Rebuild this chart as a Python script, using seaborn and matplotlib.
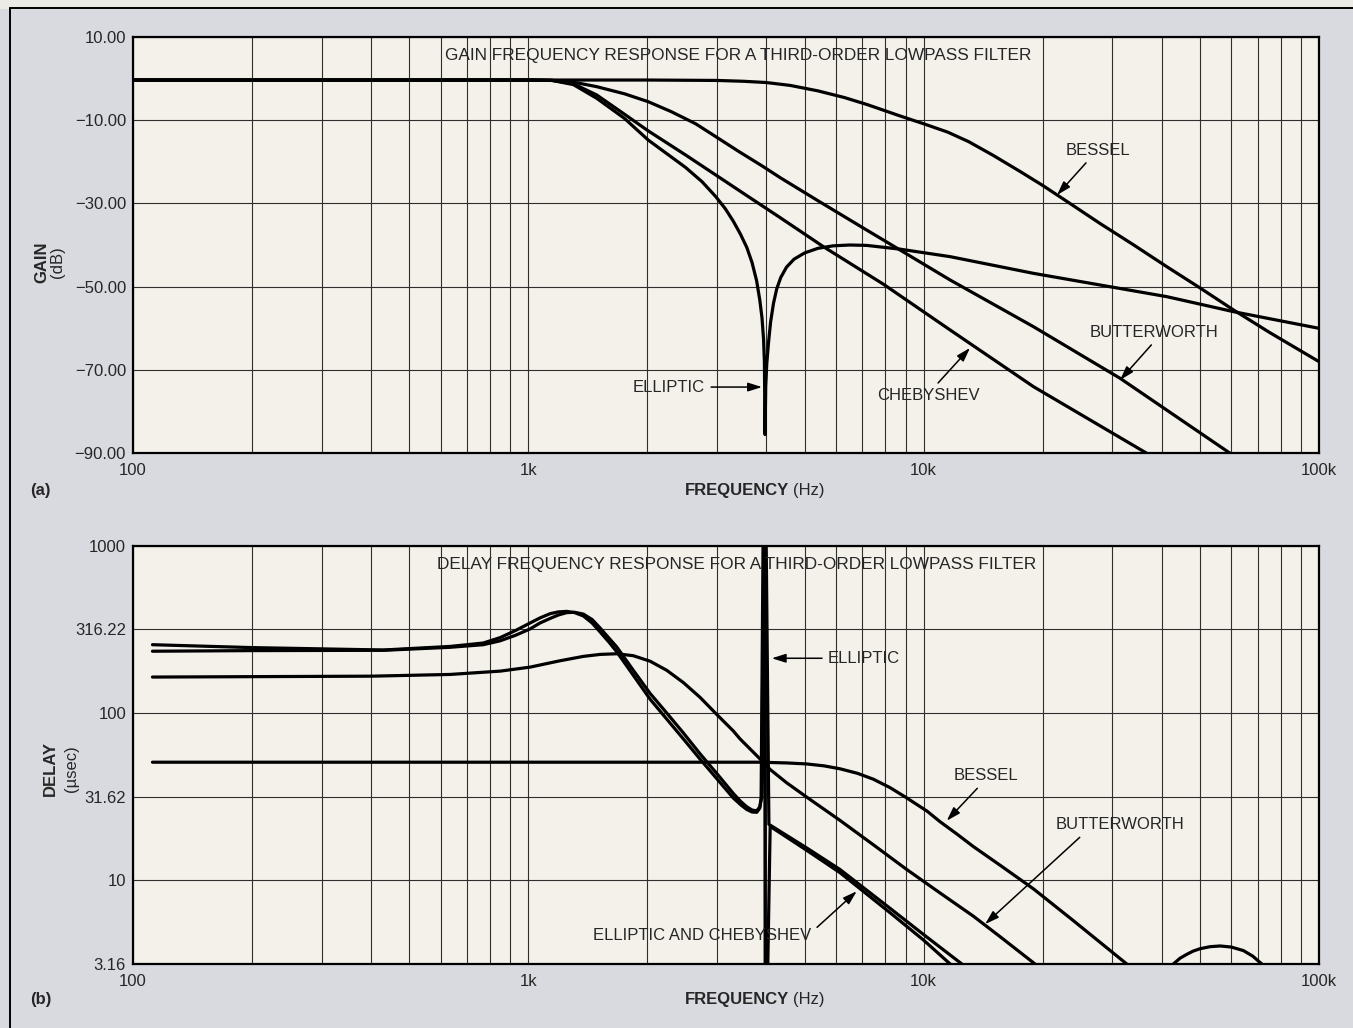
import numpy as np
import seaborn as sns
import matplotlib.pyplot as plt
from matplotlib.lines import Line2D
from matplotlib.ticker import LogLocator, NullLocator, NullFormatter

# --- (a) gain, dB ---
gain_bessel_f = [100, 2000, 3000, 3500, 4000, 4600, 5400, 6300, 7200, 8000, 8700, 10000, 11500, 13000, 15000,
                 17500, 20000, 23000, 27900, 34000, 41200, 50000, 60800, 75000, 100000]
gain_bessel_db = [-0.4, -0.4, -0.5, -0.7, -1.0, -1.7, -3.0, -4.6, -6.3, -7.8, -9.0, -10.9, -12.9, -15.2, -18.5,
                  -22.3, -25.7, -29.5, -34.8, -40.0, -45.2, -50.3, -55.6, -61.0, -68.0]

gain_butter_f = [100, 1000, 1150, 1300, 1490, 1750, 2010, 2300, 2650, 2980, 3400, 3900, 4330, 5365, 7000, 8716,
                 11667, 18950, 31400, 59600]
gain_butter_db = [-0.4, -0.4, -0.5, -0.9, -2.0, -3.7, -5.6, -8.0, -10.9, -14.0, -17.5, -21.0, -23.8, -29.2, -35.8,
                  -41.2, -48.4, -59.6, -72.0, -90.0]

gain_cheb_f = [100, 1000, 1150, 1300, 1490, 1750, 2010, 2500, 2980, 3630, 4330, 5576, 7907, 11667, 18954, 36680]
gain_cheb_db = [-0.4, -0.4, -0.5, -1.3, -4.0, -8.6, -12.6, -18.4, -23.2, -28.6, -33.4, -40.4, -49.4, -60.4, -74.0, -90.0]

gain_ell_f = [100, 1000, 1150, 1300, 1490, 1750, 2010, 2500, 2750, 2980, 3150, 3300, 3440, 3570, 3680, 3780, 3850,
              3900, 3935, 3955, 3970, 3985, 4010, 4050, 4100, 4170, 4250, 4350, 4500, 4700, 5000, 5400, 5900,
              6500, 7180, 8720, 11670, 18950, 27950, 41210, 60760, 100000]
gain_ell_db = [-0.4, -0.4, -0.5, -1.5, -4.8, -9.6, -14.8, -21.4, -24.8, -28.4, -31.3, -34.3, -37.4, -40.6, -44.2,
               -48.6, -53.2, -57.5, -62.5, -68.0, -85.5, -74.0, -68.5, -63.5, -58.5, -54.0, -50.5, -47.8, -45.3,
               -43.4, -41.9, -40.8, -40.2, -40.0, -40.1, -41.0, -42.8, -46.8, -49.6, -52.4, -56.0, -60.0]

# --- (b) delay, usec ---
delay_bessel_f = [112, 3850, 4500, 5060, 5600, 6144, 6800, 7461, 8222, 9000, 10200, 11000, 12100, 13360, 15610,
                  18940, 24000, 32640]
delay_bessel_us = [50.8, 50.8, 50.3, 49.6, 48.3, 46.4, 43.6, 40.2, 35.8, 31.4, 25.9, 22.4, 19.0, 15.9, 12.3,
                   8.9, 5.7, 3.16]

delay_butter_f = [112, 400, 634, 850, 1010, 1200, 1378, 1520, 1674, 1843, 2032, 2239, 2467, 2719, 2997, 3301, 3432,
                  3930, 4087, 4500, 5062, 6144, 7461, 9062, 11000, 13360, 15610, 19130]
delay_butter_us = [164, 166, 170, 178, 188, 205, 218, 224, 226, 220, 204, 180, 152, 124, 98, 78, 70,
                   50.8, 46, 38.3, 31.4, 22.8, 16.3, 11.6, 8.4, 6.1, 4.6, 3.16]

delay_cheb_f = [112, 200, 430, 634, 769, 848, 930, 1010, 1070, 1134, 1190, 1251, 1310, 1378, 1450, 1519, 1600,
                1674, 1843, 2032, 2239, 2467, 2719, 2997, 3301, 3450, 3569, 3680, 3783, 3850, 3880, 3925, 3995,
                4060, 5062, 6144, 8222, 9984, 12490, 30000, 100000]
delay_cheb_us = [256, 246, 238, 250, 262, 282, 312, 345, 370, 392, 402, 405, 398, 380, 345, 305, 265,
                 232, 168, 121, 92, 70, 53, 40.5, 31, 28.2, 26.5, 25.6, 25.5, 27, 31, 1100, 1100,
                 21.6, 15.6, 11.6, 6.8, 4.75, 3.16, 0.6, 0.12]

delay_ell_f = [112, 200, 430, 634, 769, 848, 930, 1010, 1070, 1134, 1190, 1251, 1310, 1378, 1450, 1519, 1600,
               1674, 1843, 2032, 2239, 2467, 2719, 2997, 3301, 3450, 3569, 3680, 3783, 3850, 3890, 3945, 3960,
               3975, 4000, 4090, 5062, 6144, 8222, 9984, 11670, 20000, 35000, 42820, 44500, 46300, 48000,
               50030, 53000, 56220, 60000, 64400, 68000, 71660, 100000]
delay_ell_us = [234, 236, 237, 247, 256, 270, 292, 318, 345, 367, 385, 398, 400, 390, 362, 322, 280,
                248, 180, 131, 100, 76, 57, 43.5, 33, 29.5, 27.5, 26.3, 26, 27.5, 31, 1100, 1100,
                1.0, 1.0, 21.0, 15.1, 11.1, 6.4, 4.4, 3.16, 1.3, 2.2, 3.16, 3.42, 3.61, 3.77,
                3.90, 4.01, 4.05, 3.99, 3.80, 3.52, 3.16, 1.2]

freq_ticks = [100, 1000, 10000, 100000]
freq_labels = ['100', '1k', '10k', '100k']
gain_ticks = [10, -10, -30, -50, -70, -90]
gain_labels = ['10.00', '\u221210.00', '\u221230.00', '\u221250.00', '\u221270.00', '\u221290.00']
delay_ticks = [3.16, 10, 31.62, 100, 316.22, 1000]
delay_labels = ['3.16', '10', '31.62', '100', '316.22', '1000']

sns.set_style('white')
plt.rcParams['font.family'] = ['Liberation Sans', 'DejaVu Sans']

W, H = 1353, 1028
BG = '#d9dae0'
FACE = '#f3f1ea'
GRID = '#2e2e2e'

fig = plt.figure(figsize=(W / 100, H / 100), dpi=100, facecolor=BG)


def fx(px):
    return px / W


def fy(py):
    return 1 - py / H


# page strip and frame line
fig.add_artist(plt.Rectangle((0, fy(8)), 1, 8 / H, color='#ecebe6', transform=fig.transFigure, zorder=0))
fig.add_artist(Line2D([fx(10), fx(10)], [0, fy(8)], color='black', lw=1.4, transform=fig.transFigure))
fig.add_artist(Line2D([fx(10), 1], [fy(8), fy(8)], color='black', lw=1.4, transform=fig.transFigure))

ax1 = fig.add_axes([fx(133), fy(453.3), (1319 - 133) / W, (453.3 - 36.7) / H])
ax2 = fig.add_axes([fx(133), fy(964), (1319 - 133) / W, (964 - 545.7) / H])


def style_axes(ax):
    ax.set_facecolor(FACE)
    ax.set_xscale('log')
    ax.set_xlim(100, 100000)
    ax.set_xticks(freq_ticks, labels=freq_labels)
    ax.xaxis.set_minor_locator(LogLocator(base=10, subs=np.arange(2, 10)))
    ax.xaxis.set_minor_formatter(NullFormatter())
    ax.grid(which='major', axis='both', color=GRID, lw=0.8)
    ax.grid(which='minor', axis='x', color=GRID, lw=0.8)
    ax.tick_params(which='both', length=0, labelsize=12)
    ax.tick_params(axis='x', pad=7)
    ax.tick_params(axis='y', pad=5)
    for s in ax.spines.values():
        s.set_color('black')
        s.set_linewidth(1.6)
    ax.set_axisbelow(True)


line_kw = dict(color='black', linewidth=2.3, estimator=None, sort=False, legend=False)
arrow_kw = dict(arrowstyle='-|>,head_length=0.7,head_width=0.22', color='black', lw=1.1, shrinkA=2, shrinkB=0)
TITLE_FS = 12.4

# ---- panel (a)
style_axes(ax1)
ax1.set_ylim(-90, 10)
ax1.set_yticks(gain_ticks, labels=gain_labels)
for f, v in [(gain_bessel_f, gain_bessel_db), (gain_butter_f, gain_butter_db),
             (gain_cheb_f, gain_cheb_db), (gain_ell_f, gain_ell_db)]:
    sns.lineplot(x=f, y=v, ax=ax1, **line_kw)
ax1.text(0.51, 0.955, 'GAIN FREQUENCY RESPONSE FOR A THIRD-ORDER LOWPASS FILTER',
         transform=ax1.transAxes, ha='center', va='center', fontsize=TITLE_FS)
ax1.annotate('BESSEL', xy=(21750, -28.0), xytext=(27540, -17.2), ha='center', va='center',
             fontsize=12, arrowprops=arrow_kw)
ax1.annotate('BUTTERWORTH', xy=(31400, -72.4), xytext=(38150, -60.9), ha='center', va='center',
             fontsize=12, arrowprops=dict(arrow_kw, relpos=(0.52, 0)))
ax1.annotate('CHEBYSHEV', xy=(13100, -64.7), xytext=(10260, -76.2), ha='center', va='center',
             fontsize=12, arrowprops=dict(arrow_kw, relpos=(0.55, 1)))
ax1.annotate('ELLIPTIC', xy=(3900, -74.1), xytext=(2799, -74.1), ha='right', va='center',
             fontsize=12, arrowprops=dict(arrow_kw, relpos=(1, 0.5)))
ax1.set_xlabel('')
ax1.set_ylabel('')

# ---- panel (b)
style_axes(ax2)
ax2.set_yscale('log')
ax2.set_ylim(3.16, 1000)
ax2.set_yticks(delay_ticks, labels=delay_labels)
ax2.yaxis.set_minor_locator(NullLocator())
ax2.grid(which='major', axis='y', color=GRID, lw=0.8)
for f, v in [(delay_bessel_f, delay_bessel_us), (delay_butter_f, delay_butter_us),
             (delay_cheb_f, delay_cheb_us), (delay_ell_f, delay_ell_us)]:
    sns.lineplot(x=f, y=v, ax=ax2, **line_kw)
ax2.text(0.509, 0.954, 'DELAY FREQUENCY RESPONSE FOR A THIRD-ORDER LOWPASS FILTER',
         transform=ax2.transAxes, ha='center', va='center', fontsize=TITLE_FS)
ax2.annotate('ELLIPTIC', xy=(4128, 212.4), xytext=(5731, 212.4), ha='left', va='center',
             fontsize=12, arrowprops=dict(arrow_kw, relpos=(0, 0.5)))
ax2.annotate('BESSEL', xy=(11440, 22.7), xytext=(14340, 42.3), ha='center', va='center',
             fontsize=12, arrowprops=dict(arrow_kw, relpos=(0.45, 0)))
ax2.annotate('BUTTERWORTH', xy=(14300, 5.47), xytext=(31400, 21.5), ha='center', va='center',
             fontsize=12, arrowprops=dict(arrow_kw, relpos=(0.23, 0)))
ax2.annotate('ELLIPTIC AND CHEBYSHEV', xy=(6771, 8.6), xytext=(2759, 4.65), ha='center', va='center',
             fontsize=12, arrowprops=dict(arrow_kw, relpos=(1.0, 0.75)))
ax2.set_xlabel('')
ax2.set_ylabel('')

# ---- outside labels
for yy in (490.5, 999.5):
    fig.text(fx(789), fy(yy), 'FREQUENCY', ha='right', va='center', fontsize=12, fontweight='bold')
    fig.text(fx(793), fy(yy), '(Hz)', ha='left', va='center', fontsize=12)
fig.text(fx(30), fy(490.5), '(a)', ha='left', va='center', fontsize=12, fontweight='bold')
fig.text(fx(30), fy(999.5), '(b)', ha='left', va='center', fontsize=12, fontweight='bold')
fig.text(fx(42), fy(262), 'GAIN', rotation=90, ha='center', va='center', fontsize=12, fontweight='bold')
fig.text(fx(58), fy(262), '(dB)', rotation=90, ha='center', va='center', fontsize=12)
fig.text(fx(50), fy(768), 'DELAY', rotation=90, ha='center', va='center', fontsize=12, fontweight='bold')
fig.text(fx(71), fy(769), '(\u00b5sec)', rotation=90, ha='center', va='center', fontsize=12)

fig.savefig('out.png', dpi=100, facecolor=BG)
